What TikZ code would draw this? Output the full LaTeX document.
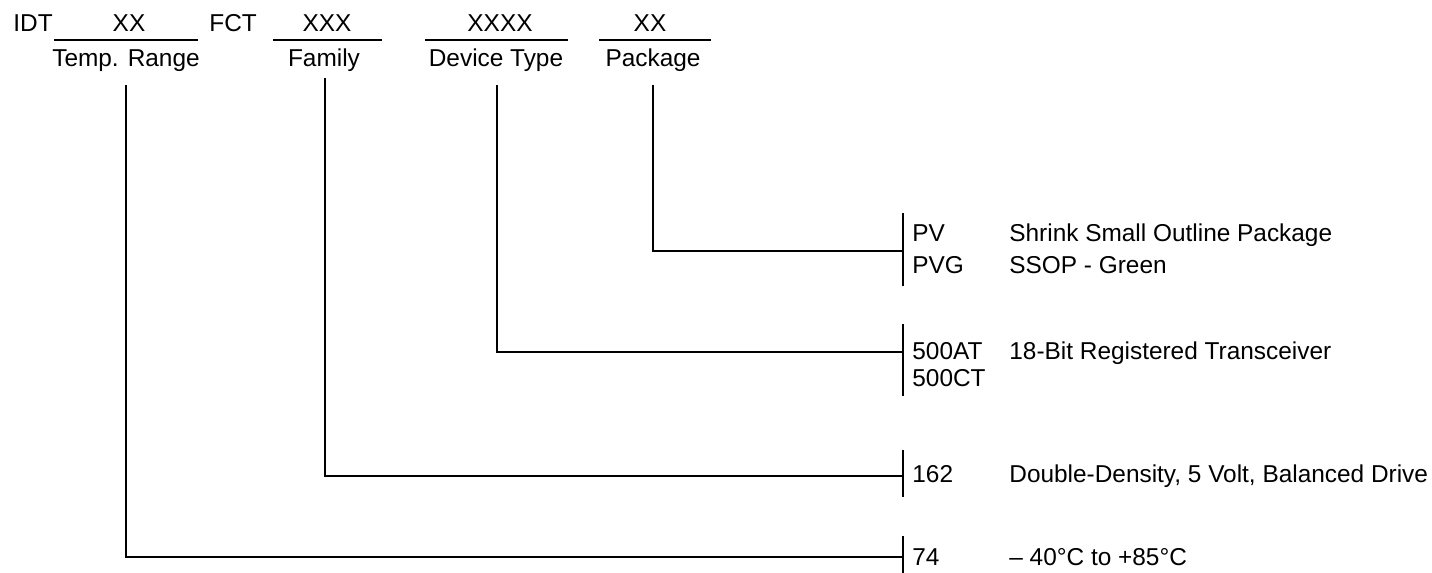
\documentclass[tikz,border=0pt]{standalone}
\usepackage{fontspec}
\setmainfont{Liberation Sans}
\tikzset{
  txt/.style={inner sep=0pt, anchor=base west, font=\fontsize{12.2}{14}\selectfont},
  ctxt/.style={txt, anchor=base},
  rule/.style={line width=1.2pt},
  wire/.style={line width=0.9pt}
}
\begin{document}
\begin{tikzpicture}[x=0.5pt,y=-0.5pt]
\useasboundingbox (0,0) rectangle (1432,573);

\node[txt] (idt) at (13,32) {IDT};
\node[ctxt] (tempx) at (129,32) {XX};
\node[txt] (fct) at (209,32) {FCT};
\node[ctxt] (famx) at (327,32) {XXX};
\node[ctxt] (devx) at (500,32) {XXXX};
\node[ctxt] (pkgx) at (650,32) {XX};

\draw[rule] (54,40) -- (198,40);
\draw[rule] (273,40) -- (382,40);
\draw[rule] (425,40) -- (568,40);
\draw[rule] (599,40) -- (711,40);

\node[ctxt] (temp) at (126,66) {Temp. Range};
\node[ctxt] (fam) at (324,66) {Family};
\node[ctxt] (dev) at (496,66) {Device Type};
\node[ctxt] (pkg) at (653,66) {Package};

\coordinate (tempTop) at (126,85);
\coordinate (famTop) at (325,78);
\coordinate (devTop) at (497,85);
\coordinate (pkgTop) at (653,85);

\coordinate (pkgBar) at (903,251);
\coordinate (devBar) at (903,352);
\coordinate (famBar) at (903,476);
\coordinate (tempBar) at (903,557);

\draw[wire] (903,213) -- (903,286);
\draw[wire] (903,324) -- (903,396);
\draw[wire] (903,450) -- (903,497);
\draw[wire] (903,536) -- (903,573);

\draw[wire] (pkgTop) |- (pkgBar);
\draw[wire] (devTop) |- (devBar);
\draw[wire] (famTop) |- (famBar);
\draw[wire] (tempTop) |- (tempBar);

\node[txt] (pv) at (912,241) {PV};
\node[txt] (pvg) at (912,273) {PVG};
\node[txt] (at) at (912,359) {500AT};
\node[txt] (ct) at (912,386) {500CT};
\node[txt] (ddd) at (912,482) {162};
\node[txt] (ind) at (912,565) {74};

\node[txt] (pvtxt) at (1009,241) {Shrink Small Outline Package};
\node[txt] (pvgtxt) at (1009,273) {SSOP - Green};
\node[txt] (attxt) at (1009,359) {18-Bit Registered Transceiver};
\node[txt] (dddtxt) at (1009,482) {Double-Density, 5 Volt, Balanced Drive};
\node[txt] (indtxt) at (1009,565) {\textendash{} 40°C to +85°C};
\end{tikzpicture}
\end{document}
